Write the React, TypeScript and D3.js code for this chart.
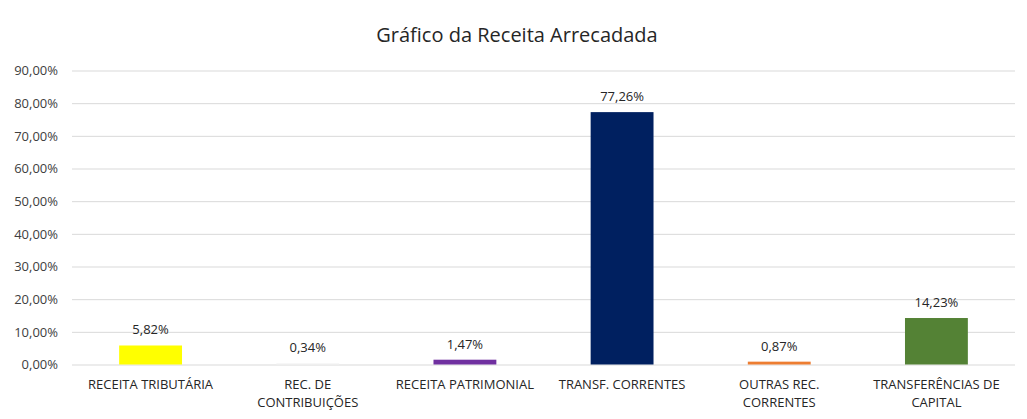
import { useEffect, useRef } from "react";
import * as d3 from "d3";

const categories = [
	"RECEITA TRIBUTÁRIA",
	"REC. DE\nCONTRIBUIÇÕES",
	"RECEITA PATRIMONIAL",
	"TRANSF. CORRENTES",
	"OUTRAS REC.\nCORRENTES",
	"TRANSFERÊNCIAS DE\nCAPITAL",
];
const values = [5.82, 0.34, 1.47, 77.26, 0.87, 14.23];
const barColors = ["#FFFF00", "#F2F2F2", "#7030A0", "#002060", "#ED7D31", "#548235"];
const yTicks = [0, 10, 20, 30, 40, 50, 60, 70, 80, 90];
const title = "Gráfico da Receita Arrecadada";

const fmt = (v: number, digits: number) => `${v.toFixed(digits).replace(".", ",")}%`;

const FONT = "'Open Sans', sans-serif";

export default function App() {
	const ref = useRef<SVGSVGElement>(null);

	useEffect(() => {
		if (!ref.current) return;
		const width = 1027;
		const height = 419;
		const margin = { top: 70, right: 12, bottom: 55, left: 72 };
		const innerWidth = width - margin.left - margin.right;

		const svg = d3.select(ref.current);
		svg.selectAll("*").remove();

		const x = d3.scaleBand().domain(categories).range([margin.left, margin.left + innerWidth]).paddingInner(0.6).paddingOuter(0.3);
		const y = d3.scaleLinear().domain([0, 90]).range([364.5, 70.5]);

		svg.append("rect").attr("width", width).attr("height", height).attr("fill", "#ffffff");

		svg
			.append("text")
			.attr("x", 517)
			.attr("y", 42)
			.attr("text-anchor", "middle")
			.attr("font-family", FONT)
			.attr("font-size", 20)
			.attr("fill", "#262626")
			.text(title);

		const yAxis = svg
			.append("g")
			.attr("transform", `translate(${margin.left},0)`)
			.call(
				d3
					.axisLeft(y)
					.tickValues(yTicks)
					.tickSize(-innerWidth)
					.tickPadding(14)
					.tickFormat((v) => fmt(Number(v), 2))
			);
		yAxis.select(".domain").remove();
		yAxis.selectAll("line").attr("stroke", "#D9D9D9");
		yAxis
			.selectAll("text")
			.attr("fill", "#404040")
			.attr("font-family", FONT)
			.attr("font-size", 13);

		svg
			.append("g")
			.selectAll("rect")
			.data(values)
			.join("rect")
			.attr("x", (_, i) => x(categories[i]) ?? 0)
			.attr("width", x.bandwidth())
			.attr("y", (d) => y(d))
			.attr("height", (d) => y(0) - y(d))
			.attr("fill", (_, i) => barColors[i]);

		svg
			.append("g")
			.selectAll("text")
			.data(values)
			.join("text")
			.attr("x", (_, i) => (x(categories[i]) ?? 0) + x.bandwidth() / 2)
			.attr("y", (d) => y(d) - 11)
			.attr("text-anchor", "middle")
			.attr("font-family", FONT)
			.attr("font-size", 13)
			.attr("fill", "#262626")
			.text((d) => fmt(d, 2));

		const xAxis = svg
			.append("g")
			.attr("transform", `translate(0,${y(0)})`)
			.call(d3.axisBottom(x).tickSize(0).tickFormat(() => ""));
		xAxis.select(".domain").remove();
		xAxis.selectAll(".tick text").remove();

		const labels = svg
			.append("g")
			.selectAll("text")
			.data(categories)
			.join("text")
			.attr("x", (d) => (x(d) ?? 0) + x.bandwidth() / 2)
			.attr("y", 389)
			.attr("text-anchor", "middle")
			.attr("font-family", FONT)
			.attr("font-size", 13)
			.attr("fill", "#262626");
		labels
			.selectAll("tspan")
			.data((d) => d.split("\n"))
			.join("tspan")
			.attr("x", function () {
				return (this.parentNode as SVGTextElement).getAttribute("x");
			})
			.attr("dy", (_, i) => (i === 0 ? 0 : 17.5))
			.text((d) => d);
	}, []);

	return (
		<svg
			ref={ref}
			width={1027}
			height={419}
			style={{ position: "fixed", left: 0, top: 0, display: "block" }}
		/>
	);
}
